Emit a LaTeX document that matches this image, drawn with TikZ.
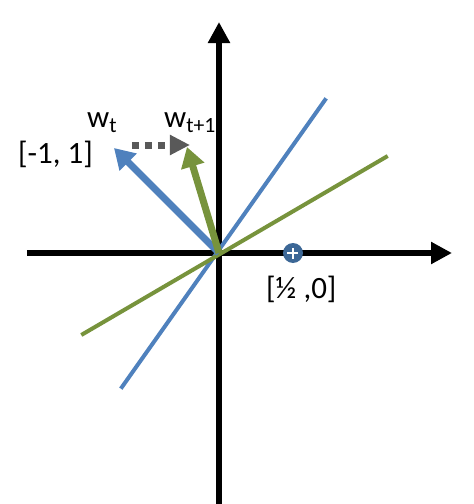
\documentclass[tikz,border=0pt]{standalone}
\usepackage{fontspec}
\setmainfont{Carlito}
\usetikzlibrary{arrows.meta,positioning}

\definecolor{vblue}{HTML}{4F81BD}
\definecolor{vgreen}{HTML}{77933C}
\definecolor{vgray}{HTML}{595959}
\definecolor{pdot}{HTML}{3C6796}

\begin{document}
\begin{tikzpicture}[
  x=1pt, y=1pt,
  axis/.style={line width=6pt, -{Triangle[width=21pt,length=21pt]}},
  sep/.style={line width=4pt, line cap=rect},
  vec/.style={line width=7pt, -{Triangle[width=23pt,length=20pt]}},
  update/.style={draw=vgray, line width=7pt, dash pattern=on 7pt off 6pt,
    -{Triangle[width=19pt,length=20pt]}},
  lbl/.style={inner sep=0pt, font=\fontsize{31}{33}\selectfont}
]
\useasboundingbox (-219,-251) rectangle (255,253);

% axes
\coordinate (O) at (0,0);
\coordinate (yb) at (0,-251);
\coordinate (yt) at (0,231);
\coordinate (xl) at (-192,0);
\coordinate (xr) at (233,0);
\draw[axis] (yb) -- (yt);
\draw[axis] (xl) -- (xr);

% separating lines
\coordinate (b1) at (-97,-134);
\coordinate (b2) at (106,153);
\coordinate (g1) at (-136,-81);
\coordinate (g2) at (167,96);
\draw[sep, vblue] (b1) -- (b2);
\draw[sep, vgreen] (g1) -- (g2);

% weight vectors
\coordinate (wt) at (-105,105);
\coordinate (wn) at (-32,106);
\coordinate (s1) at (-87,108);
\coordinate (s2) at (-29,108);
\draw[vec, vblue] (O) -- (wt);
\draw[vec, vgreen] (O) -- (wn);
\draw[update] (s1) -- (s2);

% positive point
\node (pt) [circle, fill=pdot, minimum size=20pt, inner sep=0pt] at (74,0) {};
\draw[white, line width=2.2pt] ([xshift=-5.5pt]pt.center) -- ([xshift=5.5pt]pt.center);
\draw[white, line width=2.2pt] ([yshift=-5.5pt]pt.center) -- ([yshift=5.5pt]pt.center);

% labels
\node (lwt) [lbl, anchor=base west] at (-132,126) {w\textsubscript{t}};
\node (lwn) [lbl, anchor=base west] at (-55,126) {w\textsubscript{t+1}};
\node (lm) [lbl, anchor=base west] at (-201,90) {[-1, 1]};
\node (lp) [lbl, anchor=base west] at (47,-45) {[½ ,0]};

\end{tikzpicture}
\end{document}
